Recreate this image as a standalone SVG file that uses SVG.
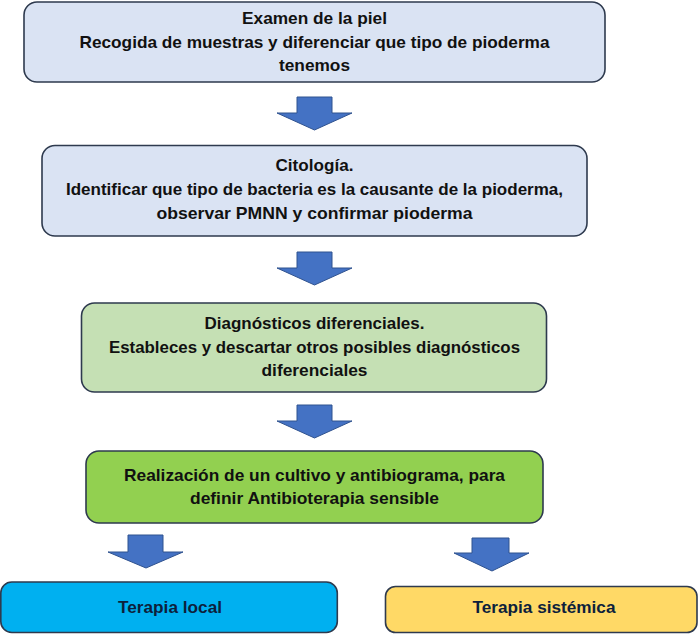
<svg xmlns="http://www.w3.org/2000/svg" width="700" height="635" viewBox="0 0 700 635">
<style>
.box{stroke:#2E3A4E;stroke-width:1.6}
.b1{fill:#DAE3F3}
.b3{fill:#C5E0B4}
.b4{fill:#92D050}
.b5{fill:#00B0F0}
.b6{fill:#FFD966}
.arr{fill:#4472C4;stroke:#2F528F;stroke-width:1}
text{font-family:"Liberation Sans",Arial,sans-serif;font-weight:bold;font-size:17px;text-anchor:middle;fill:#111111}
.dk{fill:#0D1F3C}
</style>
<rect width="700" height="635" fill="#FFFFFF"/>
<g id="n1">
<rect class="box b1" x="24" y="2" width="581" height="80" rx="13"/>
<text x="314.5" y="24" textLength="145" lengthAdjust="spacingAndGlyphs">Examen de la piel</text>
<text x="314.5" y="48" textLength="470" lengthAdjust="spacingAndGlyphs">Recogida de muestras y diferenciar que tipo de pioderma</text>
<text x="314.5" y="71" textLength="71" lengthAdjust="spacingAndGlyphs">tenemos</text>
</g>
<g id="n2">
<rect class="box b1" x="42" y="145.5" width="545" height="90.5" rx="13"/>
<text x="314.5" y="171" textLength="78" lengthAdjust="spacingAndGlyphs">Citología.</text>
<text x="314.5" y="195" textLength="497" lengthAdjust="spacingAndGlyphs">Identificar que tipo de bacteria es la causante de la pioderma,</text>
<text x="314.5" y="219" textLength="316" lengthAdjust="spacingAndGlyphs">observar PMNN y confirmar pioderma</text>
</g>
<g id="n3">
<rect class="box b3" x="81.5" y="303" width="465" height="89" rx="13"/>
<text x="314.5" y="329" textLength="220" lengthAdjust="spacingAndGlyphs">Diagnósticos diferenciales.</text>
<text x="314.5" y="353" textLength="411" lengthAdjust="spacingAndGlyphs">Estableces y descartar otros posibles diagnósticos</text>
<text x="314.5" y="376" textLength="106" lengthAdjust="spacingAndGlyphs">diferenciales</text>
</g>
<g id="n4">
<rect class="box b4" x="86" y="451" width="457" height="72" rx="13"/>
<text x="314.5" y="481" textLength="381" lengthAdjust="spacingAndGlyphs">Realización de un cultivo y antibiograma, para</text>
<text x="314.5" y="504" textLength="249" lengthAdjust="spacingAndGlyphs">definir Antibioterapia sensible</text>
</g>
<g id="n5">
<rect class="box b5" x="0.8" y="582" width="336.5" height="50.5" rx="11"/>
<text class="dk" x="170" y="613" textLength="104" lengthAdjust="spacingAndGlyphs">Terapia local</text>
</g>
<g id="n6">
<rect class="box b6" x="385.5" y="586.5" width="311.5" height="46" rx="10"/>
<text class="dk" x="544" y="613" textLength="143" lengthAdjust="spacingAndGlyphs">Terapia sistémica</text>
</g>
<g id="connectors">
<polygon class="arr" points="297,97 332,97 332,113 352,113 314.5,130 277,113 297,113"/>
<polygon class="arr" points="297,252 332,252 332,268 352,268 314.5,285 277,268 297,268"/>
<polygon class="arr" points="297,405 332,405 332,421 352,421 314.5,438 277,421 297,421"/>
<polygon class="arr" points="128,535 163,535 163,552 183,552 146,568 108,552 128,552"/>
<polygon class="arr" points="472,538 509,538 509,553 529,553 492,571 454,553 472,553"/>
</g>
</svg>
